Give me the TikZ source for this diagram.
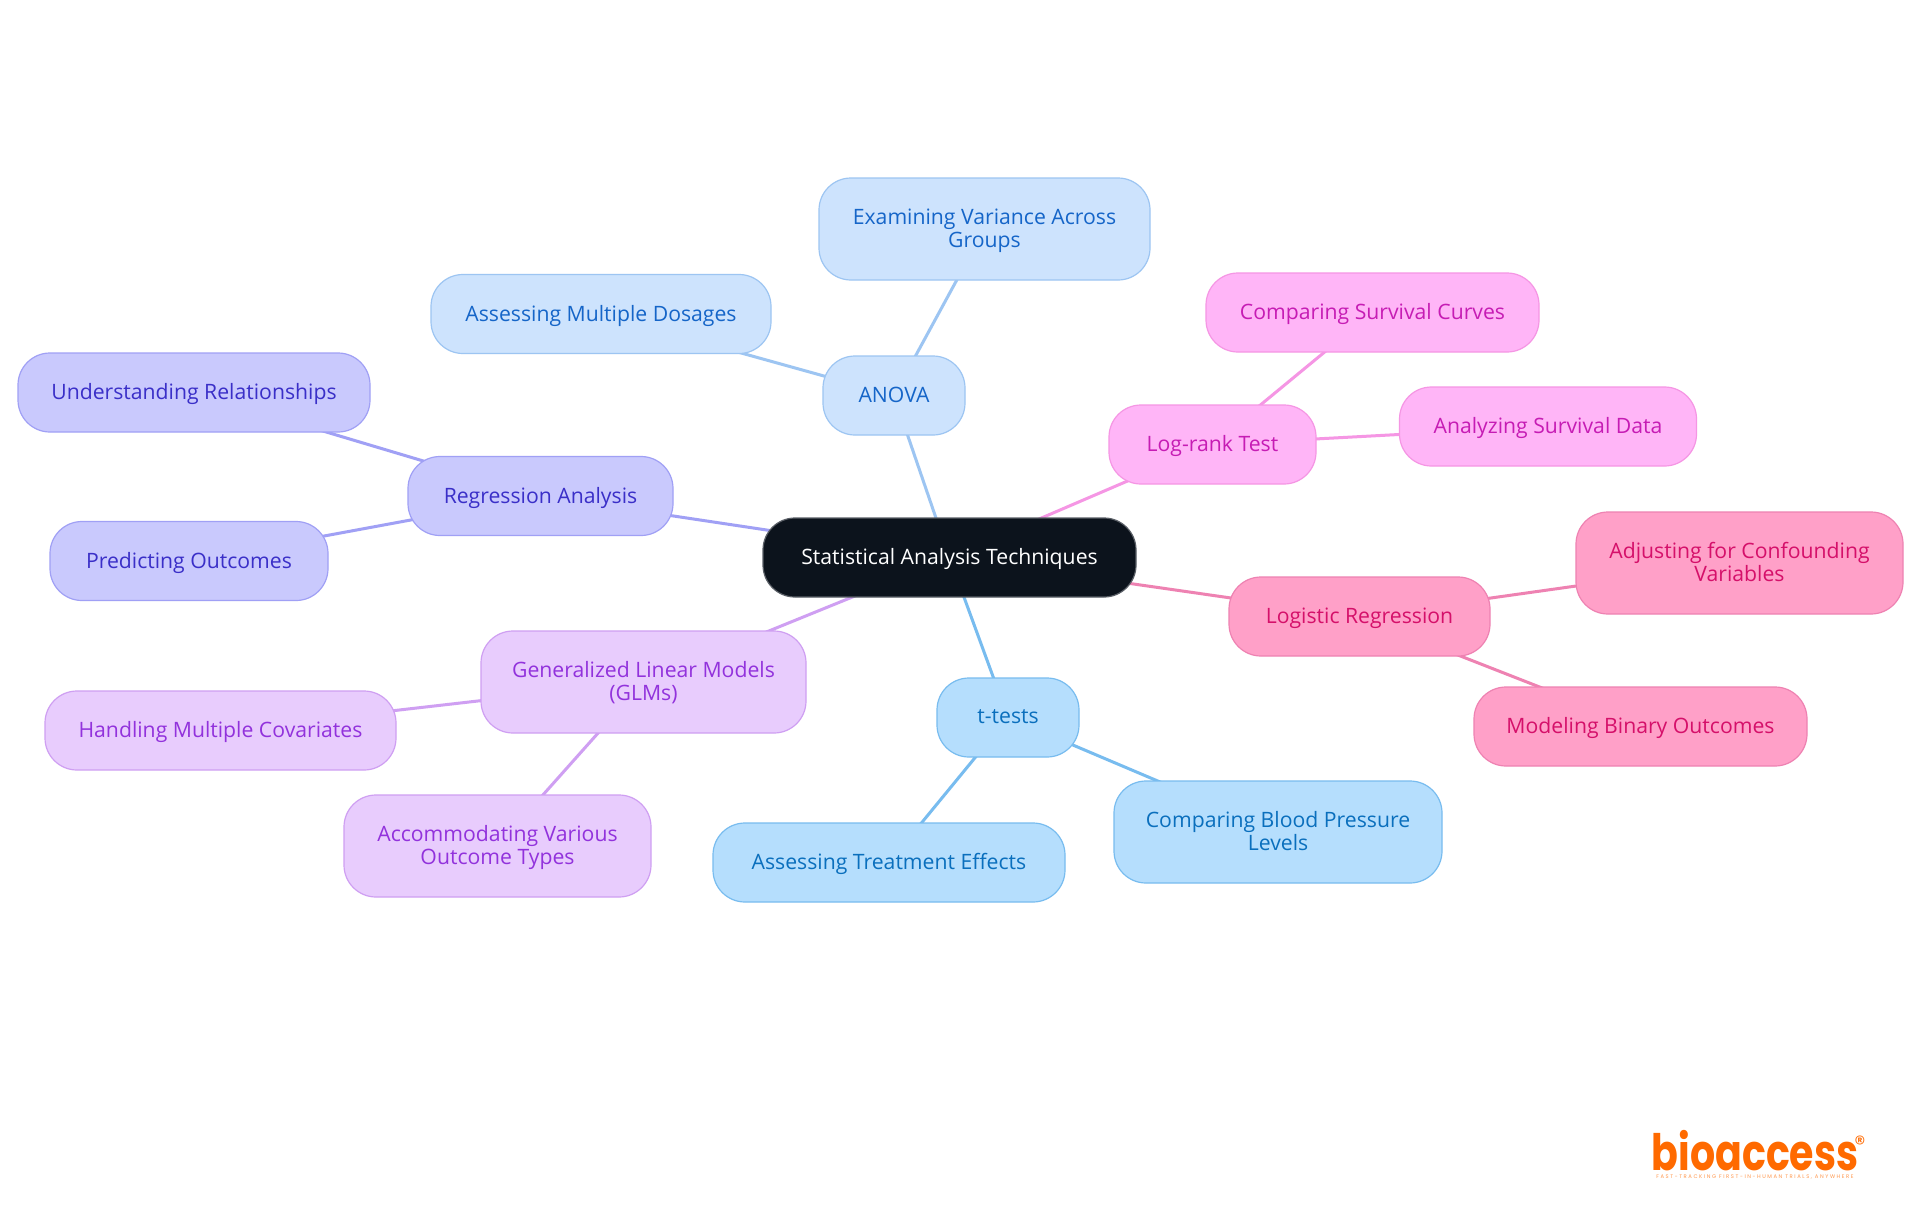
\documentclass[tikz,border=0pt]{standalone}
\usepackage{fontspec}
\setmainfont{Open Sans}
\newfontfamily\logofont{Poppins}
\newfontfamily\tagfont[LetterSpace=30]{Poppins}
\usetikzlibrary{backgrounds}
\definecolor{rootfill}{HTML}{0C131C}
\definecolor{rootline}{HTML}{5A5F66}
\definecolor{afill}{HTML}{CDE3FD}\definecolor{aline}{HTML}{9DC5F2}\definecolor{atext}{HTML}{1565C8}
\definecolor{rfill}{HTML}{C9C9FD}\definecolor{rline}{HTML}{A0A0F5}\definecolor{rtext}{HTML}{3A2FC8}
\definecolor{gfill}{HTML}{E8CCFD}\definecolor{gline}{HTML}{CF9FF2}\definecolor{gtext}{HTML}{9232DC}
\definecolor{lfill}{HTML}{FFB5F7}\definecolor{lline}{HTML}{F596E4}\definecolor{ltext}{HTML}{C61CB4}
\definecolor{pfill}{HTML}{FFA0C8}\definecolor{pline}{HTML}{EE82B2}\definecolor{ptext}{HTML}{D5106A}
\definecolor{tfill}{HTML}{B5DEFD}\definecolor{tline}{HTML}{78BCEF}\definecolor{ttext}{HTML}{0A6FBD}
\definecolor{logoorange}{HTML}{FF6A00}
\tikzset{
  box/.style={rounded corners=32pt,line width=1.2pt,align=center,inner sep=0pt,text depth=2pt,minimum height=79pt,font=\fontsize{21.2}{23}\selectfont},
  tall/.style={minimum height=102pt},
  wd/.style={minimum width=#1 pt},
  rootbox/.style={box,fill=rootfill,draw=rootline,text=white},
  abox/.style={box,fill=afill,draw=aline,text=atext},
  rbox/.style={box,fill=rfill,draw=rline,text=rtext},
  gbox/.style={box,fill=gfill,draw=gline,text=gtext},
  lbox/.style={box,fill=lfill,draw=lline,text=ltext},
  pbox/.style={box,fill=pfill,draw=pline,text=ptext},
  tbox/.style={box,fill=tfill,draw=tline,text=ttext},
  link/.style={line width=3pt}
}
\begin{document}
\begin{tikzpicture}[x=1pt,y=-1pt]
\useasboundingbox (0,0) rectangle (1920,1215);
\node[rootbox,wd=373] (root) at (949.5,557.5) {Statistical Analysis Techniques};
\node[abox,wd=142] (anova) at (894,395.5) {ANOVA};
\node[abox,tall,wd=331] (exam) at (984.5,229) {Examining Variance Across\\Groups};
\node[abox,wd=340] (dos) at (601,314) {Assessing Multiple Dosages};
\node[rbox,wd=265] (reg) at (540.5,496) {Regression Analysis};
\node[rbox,wd=352] (und) at (194,392.5) {Understanding Relationships};
\node[rbox,wd=278] (pred) at (189,561) {Predicting Outcomes};
\node[gbox,tall,wd=325] (glm) at (643.5,682) {Generalized Linear Models\\(GLMs)};
\node[gbox,wd=351] (hand) at (220.5,730.5) {Handling Multiple Covariates};
\node[gbox,tall,wd=307] (acc) at (497.5,846) {Accommodating Various\\Outcome Types};
\node[tbox,wd=142] (ttest) at (1008,717.5) {t-tests};
\node[tbox,wd=352] (treat) at (889,862.5) {Assessing Treatment Effects};
\node[tbox,tall,wd=328] (bp) at (1278,832) {Comparing Blood Pressure\\Levels};
\node[pbox,wd=261] (logi) at (1359.5,616.5) {Logistic Regression};
\node[pbox,tall,wd=327] (adj) at (1739.5,563) {Adjusting for Confounding\\Variables};
\node[pbox,wd=333] (bin) at (1640.5,726.5) {Modeling Binary Outcomes};
\node[lbox,wd=207] (lr) at (1212.5,444.5) {Log-rank Test};
\node[lbox,wd=333] (surv) at (1372.5,312.5) {Comparing Survival Curves};
\node[lbox,wd=297] (ana) at (1548,426.5) {Analyzing Survival Data};
\node[text=logoorange,inner sep=0pt,anchor=base,font=\logofont\bfseries\fontsize{39.5}{40}\selectfont] (logo) at (1755,1170) {\scalebox{1}[1.27]{bioaccess}};
\node[text=logoorange,inner sep=0pt,anchor=north,font=\logofont\fontsize{22}{22}\selectfont] (regmark) at (1860,1136) {®};
\node[text=logoorange!70,inner sep=0pt,font=\tagfont\fontsize{5.25}{6}\selectfont] (tag) at (1755,1177.5) {FAST-TRACKING FIRST-IN-HUMAN TRIALS, ANYWHERE};
\begin{scope}[on background layer]
\fill[white] (0,0) rectangle (1920,1215);
\draw[link,aline] (root.center) -- (anova.center);
\draw[link,aline] (anova.center) -- (exam.center);
\draw[link,aline] (anova.center) -- (dos.center);
\draw[link,rline] (root.center) -- (reg.center);
\draw[link,rline] (reg.center) -- (und.center);
\draw[link,rline] (reg.center) -- (pred.center);
\draw[link,gline] (root.center) -- (glm.center);
\draw[link,gline] (glm.center) -- (hand.center);
\draw[link,gline] (glm.center) -- (acc.center);
\draw[link,tline] (root.center) -- (ttest.center);
\draw[link,tline] (ttest.center) -- (treat.center);
\draw[link,tline] (ttest.center) -- (bp.center);
\draw[link,pline] (root.center) -- (logi.center);
\draw[link,pline] (logi.center) -- (adj.center);
\draw[link,pline] (logi.center) -- (bin.center);
\draw[link,lline] (root.center) -- (lr.center);
\draw[link,lline] (lr.center) -- (surv.center);
\draw[link,lline] (lr.center) -- (ana.center);
\end{scope}
\end{tikzpicture}
\end{document}
